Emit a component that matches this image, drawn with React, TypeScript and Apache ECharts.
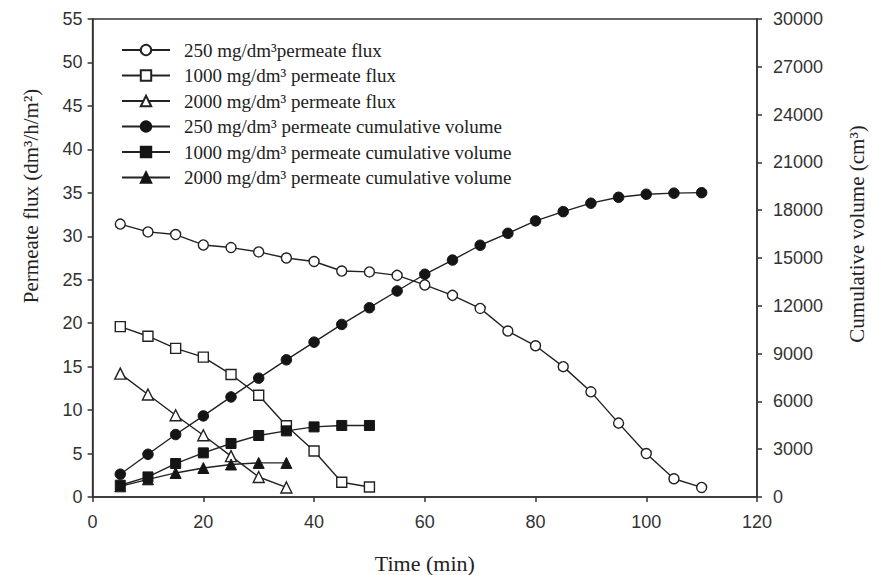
import React, { useEffect, useRef } from "react";
import * as echarts from "echarts";

const times250 = [5, 10, 15, 20, 25, 30, 35, 40, 45, 50, 55, 60, 65, 70, 75, 80, 85, 90, 95, 100, 105, 110];
const times1000 = [5, 10, 15, 20, 25, 30, 35, 40, 45, 50];
const times2000 = [5, 10, 15, 20, 25, 30, 35];

const flux250 = [31.4, 30.5, 30.2, 29.0, 28.7, 28.2, 27.5, 27.1, 26.0, 25.9, 25.5, 24.4, 23.2, 21.7, 19.1, 17.4, 15.0, 12.1, 8.5, 5.0, 2.1, 1.1];
const flux1000 = [19.6, 18.5, 17.1, 16.1, 14.1, 11.7, 8.2, 5.3, 1.7, 1.15];
const flux2000 = [14.2, 11.8, 9.4, 7.1, 4.7, 2.3, 1.1];

const cum250 = [1430, 2680, 3920, 5090, 6280, 7460, 8610, 9720, 10830, 11880, 12930, 13980, 14870, 15800, 16550, 17330, 17910, 18440, 18810, 19000, 19070, 19100];
const cum1000 = [740, 1260, 2100, 2770, 3360, 3860, 4150, 4400, 4490, 4490];
const cum2000 = [670, 1110, 1510, 1820, 2040, 2140, 2140];

const seriesNames = [
  "250 mg/dm³permeate flux",
  "1000 mg/dm³ permeate flux",
  "2000 mg/dm³ permeate flux",
  "250 mg/dm³ permeate cumulative volume",
  "1000 mg/dm³ permeate cumulative volume",
  "2000 mg/dm³ permeate cumulative volume",
];

const xAxisName = "Time (min)";
const yLeftName = "Permeate flux (dm³/h/m²)";
const yRightName = "Cumulative volume (cm³)";

const pair = (xs: number[], ys: number[]) => xs.map((x, i) => [x, ys[i]]);

export default function App() {
  const ref = useRef<HTMLDivElement>(null);
  useEffect(() => {
    if (!ref.current) return;
    const chart = echarts.init(ref.current, null, { renderer: "svg" });
    const ink = "#222";
    const open = { color: "#fff", borderColor: ink, borderWidth: 1.4 };
    const filled = { color: "#151515", borderColor: "#151515", borderWidth: 1 };
    const line = { color: ink, width: 1.4 };
    const mk = (name: string, data: number[][], symbol: string, item: any, yAxisIndex: number, size = 10) => ({
      name,
      type: "line",
      data,
      yAxisIndex,
      symbol,
      symbolSize: size,
      showAllSymbol: true,
      itemStyle: item,
      lineStyle: line,
      emphasis: { disabled: true },
    });
    const axisLine = { show: true, lineStyle: { color: "#333", width: 1.5 } };
    const axisTick = { show: true, inside: false, length: 5, lineStyle: { color: "#333", width: 1.5 } };
    const tickFont = { fontFamily: "Liberation Sans", fontSize: 18, color: "#333" };
    const nameFont = { fontFamily: "Liberation Serif", fontSize: 21, color: "#222" };
    chart.setOption({
      animation: false,
      backgroundColor: "#fff",
      grid: {
        left: 92.6,
        right: 116,
        top: 19,
        bottom: 78,
        containLabel: false,
        outerBoundsMode: "none",
        show: true,
        borderColor: "#333",
        borderWidth: 1.5,
        backgroundColor: "transparent",
      },
      legend: {
        orient: "vertical",
        left: 121,
        top: 40,
        padding: 0,
        itemWidth: 48,
        itemHeight: 13,
        itemGap: 5.5,
        data: seriesNames,
        textStyle: { fontFamily: "Liberation Serif", fontSize: 19, color: "#222", lineHeight: 20, padding: [0, 0, 0, 9] },
        selectedMode: false,
      },
      graphic: [
        {
          type: "text",
          x: 31,
          y: 196,
          rotation: Math.PI / 2,
          style: { text: yLeftName, fontFamily: "Liberation Serif", fontSize: 21, fill: "#222", align: "center", verticalAlign: "middle" },
        },
        {
          type: "text",
          x: 857,
          y: 234,
          rotation: Math.PI / 2,
          style: { text: yRightName, fontFamily: "Liberation Serif", fontSize: 21, fill: "#222", align: "center", verticalAlign: "middle" },
        },
      ],
      xAxis: {
        type: "value",
        min: 0,
        max: 120,
        interval: 20,
        name: xAxisName,
        nameLocation: "middle",
        nameGap: 55,
        nameTextStyle: { ...nameFont, fontSize: 22 },
        axisLine,
        axisTick,
        axisLabel: { ...tickFont, margin: 16 },
        splitLine: { show: false },
      },
      yAxis: [
        {
          type: "value",
          position: "left",
          min: 0,
          max: 55,
          interval: 5,
          axisLine,
          axisTick,
          axisLabel: { ...tickFont, margin: 10 },
          splitLine: { show: false },
        },
        {
          type: "value",
          position: "right",
          min: 0,
          max: 30000,
          interval: 3000,
          axisLine,
          axisTick,
          axisLabel: { ...tickFont, margin: 16, formatter: (v: number) => String(v) },
          splitLine: { show: false },
        },
      ],
      series: [
        mk(seriesNames[0], pair(times250, flux250), "circle", open, 0),
        mk(seriesNames[1], pair(times1000, flux1000), "rect", open, 0),
        mk(seriesNames[2], pair(times2000, flux2000), "triangle", open, 0, 11),
        mk(seriesNames[3], pair(times250, cum250), "circle", filled, 1, 10.5),
        mk(seriesNames[4], pair(times1000, cum1000), "rect", filled, 1),
        mk(seriesNames[5], pair(times2000, cum2000), "triangle", filled, 1, 11),
      ],
    });
    return () => chart.dispose();
  }, []);
  return <div ref={ref} style={{ width: 873, height: 575, position: "absolute", left: 0, top: 0 }} />;
}
